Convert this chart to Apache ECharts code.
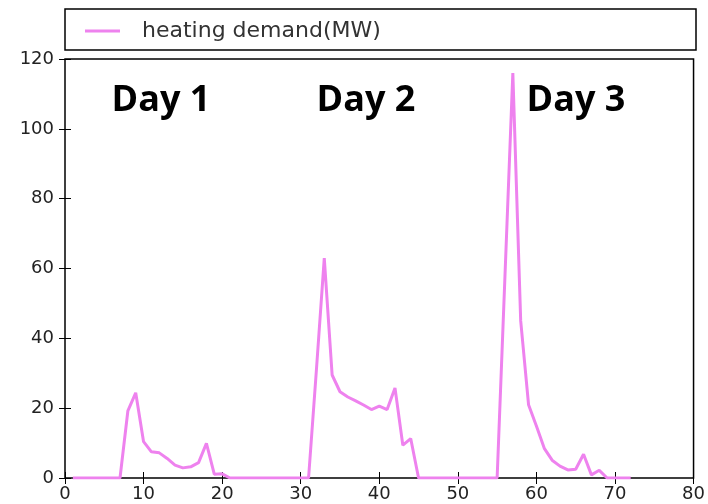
<!DOCTYPE html>
<html>
<head>
<meta charset="utf-8">
<script src="https://cdn.jsdelivr.net/npm/echarts@6/dist/echarts.min.js"></script>
<style>
  html, body { margin: 0; padding: 0; background: #fff; }
  #chart { width: 708px; height: 504px; }
</style>
</head>
<body>
<div id="chart"></div>
<script>
// hours 1..72 (three days)
var hours = [
  1, 2, 3, 4, 5, 6, 7, 8, 9, 10, 11, 12, 13, 14, 15, 16, 17, 18,
  19, 20, 21, 22, 23, 24, 25, 26, 27, 28, 29, 30, 31, 32, 33, 34, 35, 36,
  37, 38, 39, 40, 41, 42, 43, 44, 45, 46, 47, 48, 49, 50, 51, 52, 53, 54,
  55, 56, 57, 58, 59, 60, 61, 62, 63, 64, 65, 66, 67, 68, 69, 70, 71, 72
]
// heating demand (MW)
var heatingDemand = [
  0, 0, 0, 0, 0, 0, 0, 19.2, 24.4, 10.4, 7.5, 7.2, 5.6, 3.7, 2.9, 3.2, 4.4, 9.9,
  1.1, 1.2, 0, 0, 0, 0, 0, 0, 0, 0, 0, 0, 0, 31, 63, 29.5, 24.7, 23.2,
  22.1, 20.9, 19.6, 20.6, 19.6, 25.8, 9.4, 11.3, 0, 0, 0, 0, 0, 0, 0, 0, 0, 0,
  0, 58, 116, 45, 21, 14.9, 8.5, 5.1, 3.4, 2.3, 2.5, 6.8, 0.9, 2.2, 0, 0, 0, 0
]
var dayLabels = ['Day 1', 'Day 2', 'Day 3']
var dayLabelX = [161, 366, 576]  // pixel centres of the annotations

var chart = echarts.init(document.getElementById('chart'))

var tickFont = { fontFamily: 'DejaVu Sans', fontSize: 18, color: '#222' }

var hiddenAxis = {
  axisLine: { show: false },
  axisTick: { show: true, inside: true, length: 6, lineStyle: { color: '#000' } },
  axisLabel: { show: false },
  splitLine: { show: false }
}

chart.setOption({
  animation: false,
  grid: {
    left: 65, right: 13, top: 59, bottom: 26,
    show: true, borderColor: '#000', borderWidth: 1.5, backgroundColor: '#fff'
  },
  legend: {
    left: 80, top: 15,
    icon: 'rect',
    itemWidth: 35, itemHeight: 3,
    textStyle: { fontFamily: 'DejaVu Sans', fontSize: 22, color: '#333', padding: [0, 0, 0, 17] },
    data: ['heating demand(MW)']
  },
  xAxis: [{
    type: 'value', min: 0, max: 80, interval: 10, position: 'bottom',
    axisLine: { show: false },
    axisTick: { inside: true, length: 6, lineStyle: { color: '#000' } },
    axisLabel: Object.assign({ margin: 7 }, tickFont),
    splitLine: { show: false }
  }, Object.assign({ type: 'value', min: 0, max: 80, interval: 10, position: 'top' }, hiddenAxis)],
  yAxis: [{
    type: 'value', min: 0, max: 120, interval: 20, position: 'left',
    axisLine: { show: false },
    axisTick: { inside: true, length: 6, lineStyle: { color: '#000' } },
    axisLabel: Object.assign({ margin: 11 }, tickFont),
    splitLine: { show: false }
  }, Object.assign({ type: 'value', min: 0, max: 120, interval: 20, position: 'right' }, hiddenAxis)],
  series: [{
    name: 'heating demand(MW)',
    type: 'line',
    symbol: 'none',
    color: '#ee82ee',
    lineStyle: { width: 3, color: '#ee82ee' },
    data: hours.map(function (h, i) { return [h, heatingDemand[i]] })
  }],
  graphic: [{
    type: 'rect',
    shape: { x: 65, y: 9, width: 631, height: 41 },
    style: { fill: 'none', stroke: '#000', lineWidth: 1.5 },
    z: 10
  }].concat(dayLabels.map(function (t, i) {
    return {
      type: 'text',
      x: dayLabelX[i], y: 83,
      style: {
        text: t,
        fontFamily: 'Open Sans',
        fontWeight: 'bold',
        fontSize: 36,
        fill: '#000',
        align: 'center',
        verticalAlign: 'top'
      },
      z: 10
    }
  }))
})
</script>
</body>
</html>
